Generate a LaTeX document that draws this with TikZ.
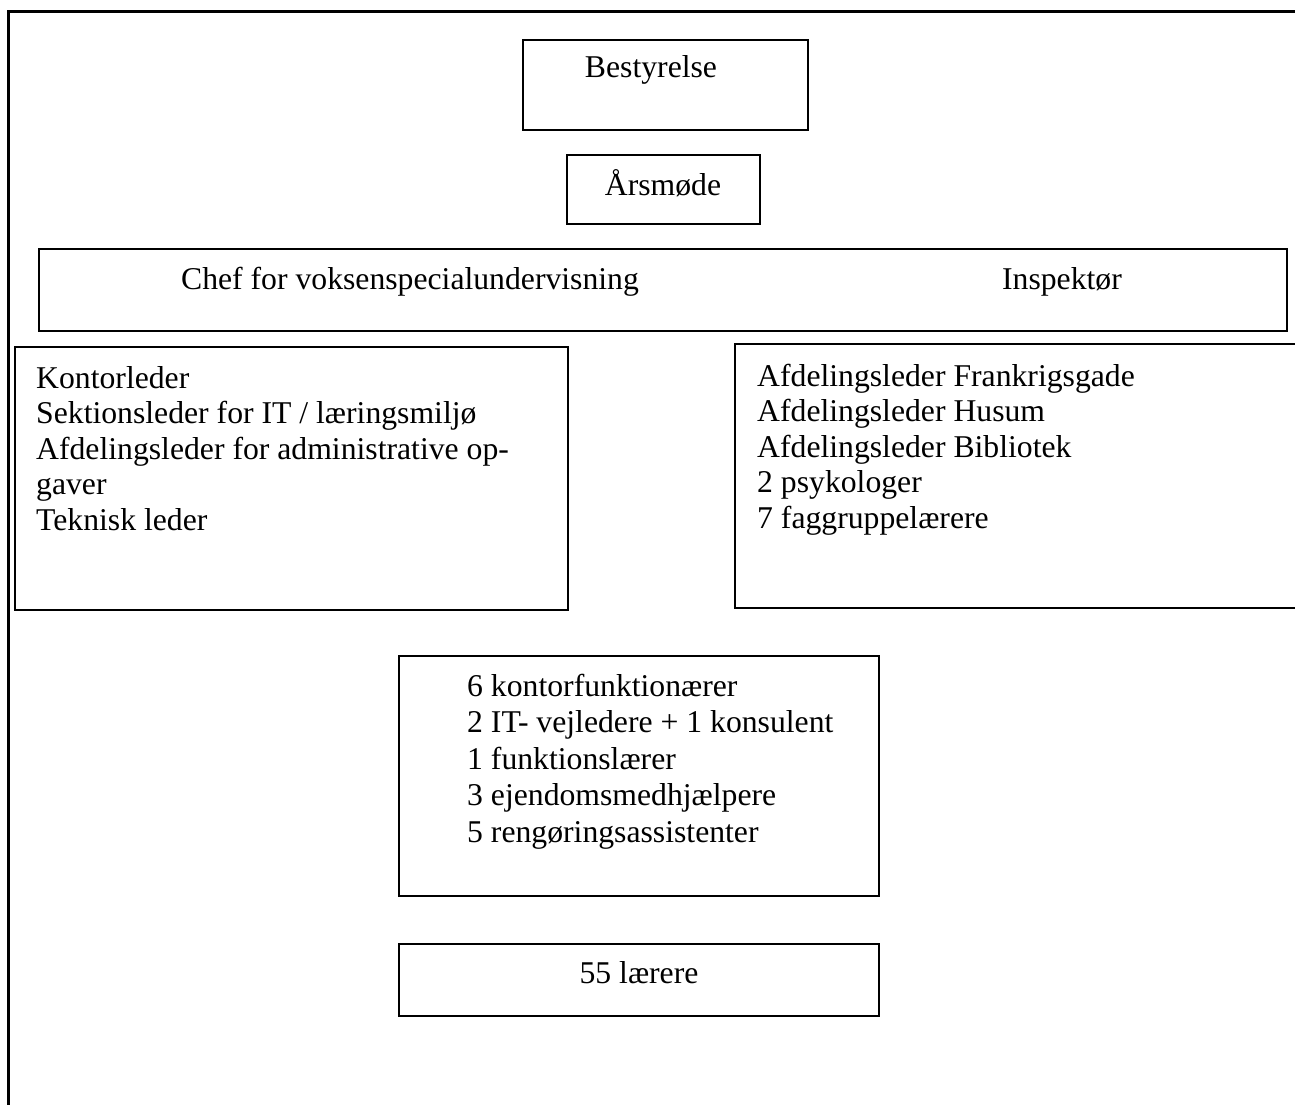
\documentclass[tikz,border=0pt]{standalone}
\usepackage{fontspec}
\setmainfont{Liberation Serif}
\tikzset{
	box/.style={draw,line width=1.8pt,inner sep=0pt,outer sep=0pt,anchor=north west},
	txt/.style={font=\fontsize{31.7}{36.4}\selectfont,inner sep=0pt},
}
\begin{document}
\begin{tikzpicture}[x=1pt,y=-1pt]
	\useasboundingbox (0,0) rectangle (1295,1105);
	\draw[line width=3pt] (8,1110)--(8,12)--(1300,12);
	% boxes
	\node[box,minimum width=285,minimum height=90] (bestyrelse) at (523,40) {};
	\node[box,minimum width=193,minimum height=69] (aarsmoede) at (567,155) {};
	\node[box,minimum width=1248,minimum height=82] (ledelse) at (39,249) {};
	\node[box,minimum width=553,minimum height=263] (kontor) at (15,347) {};
	\node[box,minimum width=585,minimum height=264] (afdeling) at (735,344) {};
	\node[box,minimum width=480,minimum height=240] (personale) at (399,656) {};
	\node[box,minimum width=480,minimum height=72] (laerere) at (399,944) {};
	% texts
	\node[txt,anchor=base] (bestyrelsetxt) at (651,78) {Bestyrelse};
	\node[txt,anchor=base] (aarsmoedetxt) at (663,195) {Årsmøde};
	\node[txt,anchor=base] (cheftxt) at (410,289) {Chef for voksenspecialundervisning};
	\node[txt,anchor=base] (inspektoertxt) at (1062,289) {Inspektør};
	\foreach \t [count=\i from 0] in {Kontorleder,Sektionsleder for IT / læringsmiljø,Afdelingsleder for administrative op-,gaver,Teknisk leder}
		\node[txt,anchor=base west] (kontor-\i) at (36,388+35.6*\i) {\t};
	\foreach \t [count=\i from 0] in {Afdelingsleder Frankrigsgade,Afdelingsleder Husum,Afdelingsleder Bibliotek,2 psykologer,7 faggruppelærere}
		\node[txt,anchor=base west] (afdeling-\i) at (757,386+35.6*\i) {\t};
	\foreach \t [count=\i from 0] in {6 kontorfunktionærer,2 IT- vejledere + 1 konsulent,1 funktionslærer,3 ejendomsmedhjælpere,5 rengøringsassistenter}
		\node[txt,anchor=base west] (personale-\i) at (467,696+36.6*\i) {\t};
	\node[txt,anchor=base] (laereretxt) at (639,983) {55 lærere};
\end{tikzpicture}
\end{document}
